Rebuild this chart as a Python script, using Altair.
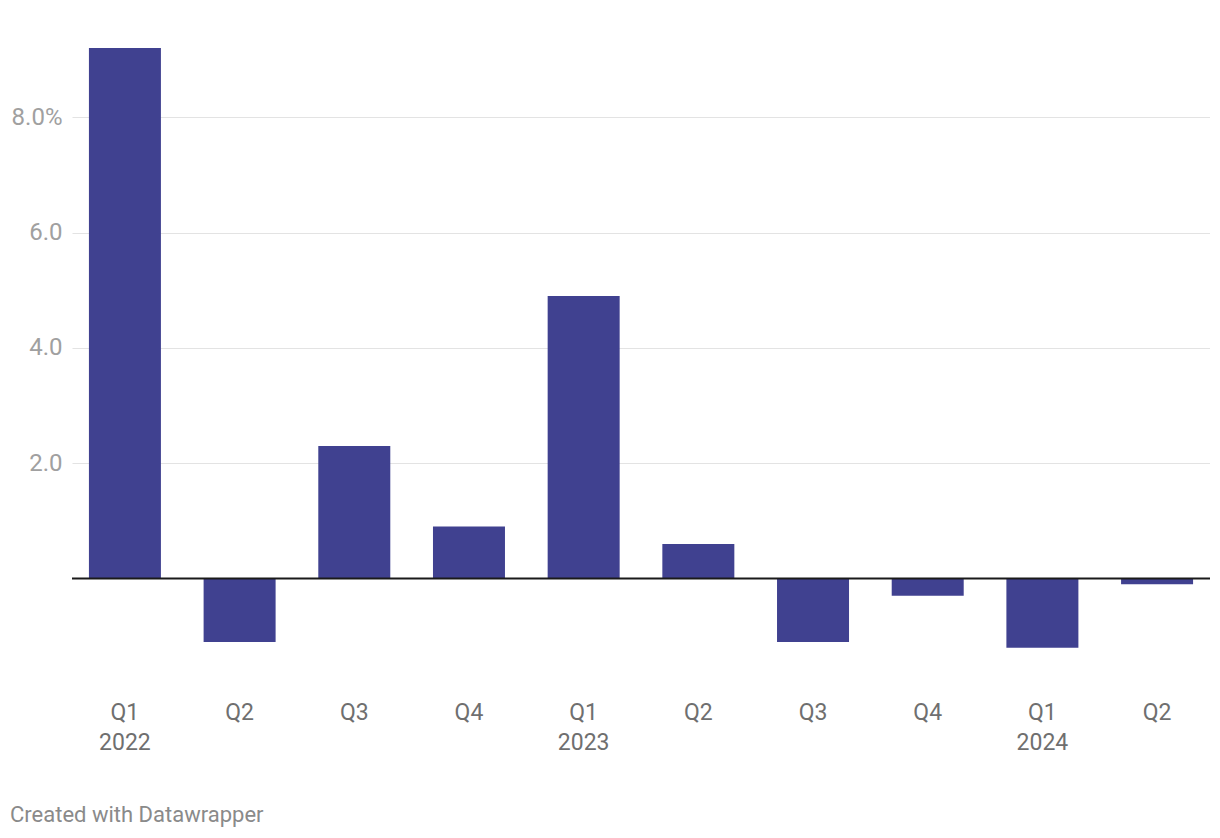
import altair as alt
import pandas as pd

quarters = ["Q1", "Q2", "Q3", "Q4", "Q1", "Q2", "Q3", "Q4", "Q1", "Q2"]
years = ["2022", "2022", "2022", "2022", "2023", "2023", "2023", "2023", "2024", "2024"]
values = [9.2, -1.1, 2.3, 0.9, 4.9, 0.6, -1.1, -0.3, -1.2, -0.1]
y_ticks = [2, 4, 6, 8]

df = pd.DataFrame({
    "key": [f"{q} {y}" for q, y in zip(quarters, years)],
    "value": values,
})
order = list(df["key"])

W = 1138
H = 617

x_enc = alt.X(
    "key:N", sort=order,
    scale=alt.Scale(paddingInner=0.373, paddingOuter=0.148),
    axis=alt.Axis(
        title=None, labelAngle=0, domain=False, ticks=False, grid=False,
        labelFont="Roboto", labelFontSize=23, labelColor="#6f6f6f",
        labelPadding=36, labelLineHeight=30, labelBaseline="top",
        labelExpr="indexof(datum.value, 'Q1') == 0 ? split(datum.value, ' ') : slice(datum.value, 0, 2)",
    ),
)

y_enc = alt.Y(
    "value:Q",
    scale=alt.Scale(domain=[-1.5, 9.2], nice=False, zero=False),
    axis=alt.Axis(
        title=None, values=y_ticks, domain=False, ticks=False,
        grid=True, gridColor="#e3e3e3", gridWidth=1,
        labelFont="Roboto", labelFontSize=24, labelColor="#a0a0a0",
        labelPadding=10,
        labelExpr="datum.value == 8 ? '8.0%' : format(datum.value, '.1f')",
    ),
)

bars = alt.Chart(df).mark_bar(color="#404190", size=72).encode(x=x_enc, y=y_enc)

zero = alt.Chart(pd.DataFrame({"value": [0]})).mark_rule(color="#1a1a1a", strokeWidth=2).encode(
    y=y_enc
)

footer = alt.Chart(pd.DataFrame({"t": ["Created with Datawrapper"]})).mark_text(
    font="Roboto", fontSize=22, color="#8a8a8a", align="left", baseline="middle"
).encode(text="t:N", x=alt.value(-62), y=alt.value(767))

chart = alt.layer(bars, zero, footer).properties(
    width=W, height=H,
    autosize=alt.AutoSizeParams(type="none"),
    padding={"left": 64, "top": 40, "right": 0, "bottom": 163},
).configure(background="white", view=alt.ViewConfig(stroke=None))

chart.save("out.html", embed_options={"renderer": "svg", "actions": False})
